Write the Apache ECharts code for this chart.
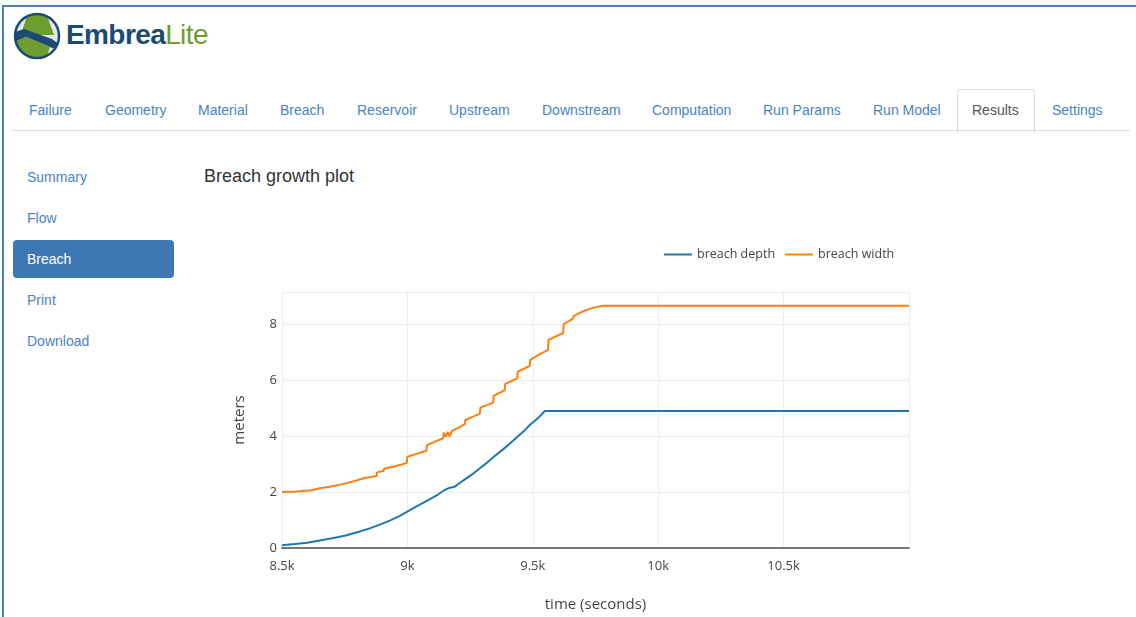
<!DOCTYPE html>
<html>
<head>
<meta charset="utf-8">
<script src="https://cdn.jsdelivr.net/npm/echarts@6/dist/echarts.min.js"></script>
<style>
  html, body { margin:0; padding:0; width:1136px; height:617px; overflow:hidden; background:#fff;
    font-family:"Liberation Sans", Arial, sans-serif; }
  .frameTop { position:absolute; left:3px; top:5px; width:1133px; height:2px; background:#4f81bd; }
  .frameLeft { position:absolute; left:2px; top:5px; width:2px; height:612px; background:#4f81bd; }
  .logo { position:absolute; left:12px; top:11px; }
  .brand { position:absolute; left:66px; top:19px; font-size:28px; font-weight:bold; letter-spacing:-0.6px; }
  .brand .a { color:#1b4b6f; }
  .brand .b { color:#6e9d2f; font-weight:normal; }
  .tabline { position:absolute; left:13px; top:130px; width:1117px; height:1px; background:#ddd; }
  .tab { position:absolute; top:102px; font-size:14px; color:#4a84c2; white-space:nowrap; }
  .activeTab { position:absolute; left:957px; top:89px; width:76px; height:42px; border:1px solid #ddd;
    border-bottom:1px solid #fff; border-radius:4px 4px 0 0; background:#fff; }
  .side { position:absolute; left:27px; font-size:14px; color:#4a84c2; }
  .sideActive { position:absolute; left:13px; top:240px; width:161px; height:38px; background:#3d78b5;
    border-radius:4px; }
  .title { position:absolute; left:204px; top:166px; font-size:18px; color:#333; }
  #chart { position:absolute; left:190px; top:190px; width:946px; height:427px; }
</style>
</head>
<body>
<div class="frameTop"></div>
<div class="frameLeft"></div>
<svg class="logo" width="50" height="50" viewBox="0 0 50 50">
  <defs><clipPath id="c"><circle cx="25" cy="25" r="22"/></clipPath></defs>
  <circle cx="25" cy="25" r="22" fill="#e6e8e8"/>
  <g clip-path="url(#c)">
    <polygon points="16,2 34,2 42,24 28,24 10,20" fill="#6e9d2f"/>
    <polygon points="0,22 12,18 40,28 48,34 48,40 38,36 14,26 0,32" fill="#1b4b6f"/>
    <polygon points="0,32 14,26 38,36 34,48 0,48" fill="#6e9d2f"/>
  </g>
  <circle cx="25" cy="25" r="22" fill="none" stroke="#1b4b6f" stroke-width="2.5"/>
</svg>
<div class="brand"><span class="a">Embrea</span><span class="b">Lite</span></div>

<div class="activeTab"></div>
<div class="tabline"></div>
<div class="tab" style="left:29px">Failure</div>
<div class="tab" style="left:105px">Geometry</div>
<div class="tab" style="left:198px">Material</div>
<div class="tab" style="left:280px">Breach</div>
<div class="tab" style="left:357px">Reservoir</div>
<div class="tab" style="left:449px">Upstream</div>
<div class="tab" style="left:542px">Downstream</div>
<div class="tab" style="left:652px">Computation</div>
<div class="tab" style="left:763px">Run Params</div>
<div class="tab" style="left:873px">Run Model</div>
<div class="tab" style="left:972px;color:#555">Results</div>
<div class="tab" style="left:1052px">Settings</div>

<div class="side" style="top:169px">Summary</div>
<div class="side" style="top:210px">Flow</div>
<div class="sideActive"></div>
<div class="side" style="top:251px;color:#fff">Breach</div>
<div class="side" style="top:292px">Print</div>
<div class="side" style="top:333px">Download</div>

<div class="title">Breach growth plot</div>
<div id="chart"></div>

<script>
// breach depth (blue)
var depthTime = [8500, 8550, 8600, 8650, 8700, 8750, 8800, 8850, 8900, 8930, 8970, 9003, 9040, 9083,
  9120, 9149, 9165, 9189, 9210, 9229, 9260, 9289, 9315, 9342, 9370, 9395, 9420, 9442, 9465, 9488,
  9520, 9548, 11000];
var depthValue = [0.10, 0.14, 0.19, 0.27, 0.35, 0.44, 0.56, 0.70, 0.87, 0.98, 1.15, 1.32, 1.50, 1.71,
  1.90, 2.07, 2.14, 2.19, 2.33, 2.45, 2.64, 2.85, 3.03, 3.24, 3.44, 3.62, 3.82, 4.00, 4.18, 4.39,
  4.63, 4.89, 4.89];

// breach width (orange)
var widthTime = [8500, 8560, 8600, 8615, 8617, 8650, 8691, 8740, 8778, 8780, 8830, 8877, 8879, 8905,
  8907, 8950, 8997, 9000, 9040, 9076, 9078, 9110, 9143, 9145, 9152, 9153, 9160, 9161, 9168, 9169,
  9176, 9177, 9200, 9229, 9231, 9260, 9289, 9291, 9320, 9342, 9344, 9366, 9388, 9390, 9415, 9438,
  9440, 9465, 9488, 9490, 9525, 9561, 9563, 9590, 9621, 9623, 9645, 9661, 9663, 9680, 9694, 9720,
  9750, 9780, 11000];
var widthValue = [2.00, 2.02, 2.05, 2.05, 2.10, 2.13, 2.19, 2.28, 2.36, 2.42, 2.50, 2.57, 2.70, 2.75,
  2.83, 2.92, 3.03, 3.26, 3.37, 3.47, 3.67, 3.80, 3.92, 4.12, 4.12, 3.98, 3.98, 4.15, 4.15, 3.98,
  3.98, 4.18, 4.28, 4.42, 4.57, 4.68, 4.80, 5.01, 5.11, 5.19, 5.43, 5.53, 5.64, 5.86, 5.96, 6.06,
  6.30, 6.40, 6.50, 6.72, 6.90, 7.07, 7.43, 7.55, 7.67, 7.99, 8.10, 8.20, 8.28, 8.36, 8.42, 8.52,
  8.60, 8.65, 8.65];

var seriesNames = ['breach depth', 'breach width'];
var seriesColors = ['#1f77b4', '#ff7f0e'];

function pairs(t, v) { return t.map(function (x, i) { return [x, v[i]]; }); }

var chart = echarts.init(document.getElementById('chart'), null, { renderer: 'canvas' });
chart.setOption({
  animation: false,
  textStyle: { fontFamily: 'Open Sans, sans-serif' },
  color: seriesColors,
  legend: {
    left: 474, top: 58, padding: 0, itemWidth: 28, itemHeight: 2, itemGap: 10, icon: 'rect',
    textStyle: { color: '#444', fontSize: 12.5, fontFamily: 'Open Sans' },
    data: seriesNames
  },
  grid: { left: 92, top: 102, width: 627, height: 256, containLabel: false },
  xAxis: {
    type: 'value', min: 8500, max: 11000, interval: 500,
    name: 'time (seconds)', nameLocation: 'middle', nameGap: 49,
    nameTextStyle: { color: '#444', fontSize: 15 },
    axisLine: { show: true, onZero: true, lineStyle: { color: '#777', width: 2 } },
    axisTick: { show: false },
    axisLabel: { color: '#444', fontSize: 13, margin: 12,
      formatter: function (v) { return v >= 11000 ? '' : (v / 1000) + 'k'; } },
    splitLine: { show: true, lineStyle: { color: '#eee', width: 1 } }
  },
  yAxis: {
    type: 'value', min: 0, max: 9.14, interval: 2,
    name: 'meters', nameLocation: 'middle', nameGap: 35,
    nameTextStyle: { color: '#444', fontSize: 15 },
    axisLine: { show: false }, axisTick: { show: false },
    axisLabel: { color: '#444', fontSize: 13, margin: 5,
      formatter: function (v) { return (Math.abs(v % 2) < 1e-9) ? String(v) : ''; } },
    splitLine: { show: true, lineStyle: { color: '#eee', width: 1 } }
  },
  series: [
    { name: seriesNames[0], type: 'line', symbol: 'none', data: pairs(depthTime, depthValue),
      lineStyle: { width: 2, color: seriesColors[0] } },
    { name: seriesNames[1], type: 'line', symbol: 'none', data: pairs(widthTime, widthValue),
      lineStyle: { width: 2, color: seriesColors[1] } }
  ]
});
</script>
</body>
</html>
